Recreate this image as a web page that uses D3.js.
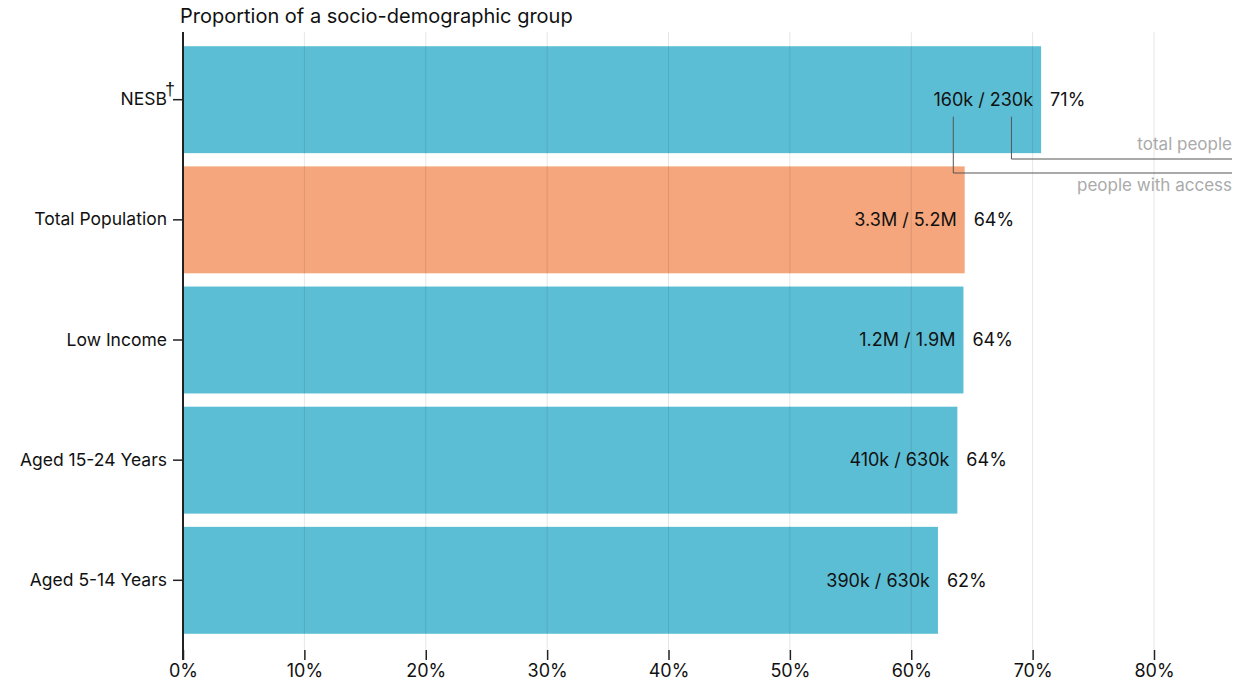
<!DOCTYPE html>
<html>
<head>
<meta charset="utf-8">
<script src="https://cdn.jsdelivr.net/npm/d3@7"></script>
<style>
  html, body { margin: 0; padding: 0; background: #fff; }
  svg { display: block; font-family: Inter, "Liberation Sans", Arial, sans-serif; }
</style>
</head>
<body>
<svg id="chart" width="1256" height="683"></svg>
<script>
// Share of each socio-demographic group with access
const groups = ["NESB", "Total Population", "Low Income", "Aged 15-24 Years", "Aged 5-14 Years"];
const proportions = [0.707, 0.644, 0.643, 0.638, 0.622];
const withAccess = ["160k", "3.3M", "1.2M", "410k", "390k"];
const totalPeople = ["230k", "5.2M", "1.9M", "630k", "630k"];
const highlighted = ["Total Population"];
const footnoted = ["NESB"];
const xTicks = [0, 0.1, 0.2, 0.3, 0.4, 0.5, 0.6, 0.7, 0.8];

const rows = groups.map((g, i) => ({
  group: g, value: proportions[i], num: withAccess[i], den: totalPeople[i]
}));

const FONT = "Inter, Liberation Sans, Arial, sans-serif";
const svg = d3.select("#chart");
const plotLeft = 183, plotRight = 1154, plotTop = 33, plotBottom = 647;

const x = d3.scaleLinear().domain([0, 0.8]).range([plotLeft, plotRight]);
const y = d3.scaleBand().domain(groups).range([plotTop, plotBottom])
  .paddingInner(0.11).paddingOuter(0.11);
const pct = d3.format(".0%");

// title
svg.append("text")
  .attr("x", 180).attr("y", 23)
  .attr("font-size", 20).attr("fill", "#111")
  .text("Proportion of a socio-demographic group");

// bars
svg.append("g").selectAll("rect").data(rows).join("rect")
  .attr("x", x(0))
  .attr("y", d => y(d.group))
  .attr("width", d => x(d.value) - x(0))
  .attr("height", y.bandwidth())
  .attr("fill", d => highlighted.includes(d.group) ? "#f5a67c" : "#5cbed4");

// vertical grid lines (drawn over the bars, faint)
svg.append("g").selectAll("line").data(xTicks.slice(1)).join("line")
  .attr("x1", d => x(d)).attr("x2", d => x(d))
  .attr("y1", 32).attr("y2", 650)
  .attr("stroke", "rgba(0,0,0,0.1)").attr("stroke-width", 1);

// bottom axis
const xAxis = svg.append("g")
  .attr("transform", "translate(0,650)")
  .call(d3.axisBottom(x).tickValues(xTicks).tickFormat(pct).tickSize(10).tickPadding(4));
xAxis.select(".domain").remove();
xAxis.selectAll(".tick line").attr("stroke", "#222").attr("stroke-width", 1.5);
xAxis.selectAll(".tick text").attr("font-size", 18).attr("fill", "#111")
  .attr("font-family", FONT);

// left axis
const yAxis = svg.append("g")
  .attr("transform", `translate(${plotLeft},0)`)
  .call(d3.axisLeft(y).tickSize(10).tickPadding(6));
yAxis.select(".domain").remove();
yAxis.selectAll(".tick line").attr("stroke", "#222").attr("stroke-width", 1.5);
yAxis.selectAll(".tick text").attr("font-size", 17.5).attr("fill", "#111")
  .attr("font-family", FONT);
// footnote marker sits just before the tick mark
yAxis.selectAll(".tick").filter(d => footnoted.includes(d))
  .append("text")
  .attr("x", -18).attr("y", -5)
  .attr("font-size", 18).attr("fill", "#111")
  .attr("font-family", "Liberation Sans, Arial, sans-serif")
  .attr("text-anchor", "start")
  .text("†");
svg.append("line")
  .attr("x1", plotLeft).attr("x2", plotLeft).attr("y1", 32).attr("y2", 660)
  .attr("stroke", "#222").attr("stroke-width", 2);

// value labels
const labels = svg.append("g").selectAll("g").data(rows).join("g")
  .attr("transform", d => `translate(${x(d.value)},${y(d.group) + y.bandwidth() / 2})`);

const ratio = labels.append("text")
  .attr("x", -8).attr("dy", "0.35em")
  .attr("text-anchor", "end").attr("font-size", 18).attr("fill", "#111");
ratio.append("tspan").attr("class", "num").text(d => d.num);
ratio.append("tspan").text(" / ");
ratio.append("tspan").attr("class", "den").text(d => d.den);

labels.append("text")
  .attr("x", 9).attr("dy", "0.35em")
  .attr("font-size", 18).attr("fill", "#111")
  .text(d => pct(d.value));

// key for the first row: which number is which
const first = rows[0];
const firstText = ratio.filter(d => d === first).node();
const fullLen = firstText.getComputedTextLength();
const numLen = firstText.querySelector(".num").getComputedTextLength();
const denLen = firstText.querySelector(".den").getComputedTextLength();
const textEnd = x(first.value) - 8;
const textStart = textEnd - fullLen;
const numCx = textStart + numLen / 2;
const denCx = textEnd - denLen / 2;
const cy = y(first.group) + y.bandwidth() / 2;
const keyRight = 1232;

const key = svg.append("g");
key.append("path")
  .attr("d", `M${denCx},${cy + 17}V159H${keyRight}`)
  .attr("fill", "none").attr("stroke", "#555").attr("stroke-width", 1);
key.append("path")
  .attr("d", `M${numCx},${cy + 17}V173H${keyRight}`)
  .attr("fill", "none").attr("stroke", "#555").attr("stroke-width", 1);
key.append("text")
  .attr("x", keyRight).attr("y", 150).attr("text-anchor", "end")
  .attr("font-size", 17).attr("fill", "#aaa").text("total people");
key.append("text")
  .attr("x", keyRight).attr("y", 191).attr("text-anchor", "end")
  .attr("font-size", 17).attr("fill", "#aaa").text("people with access");
</script>
</body>
</html>
